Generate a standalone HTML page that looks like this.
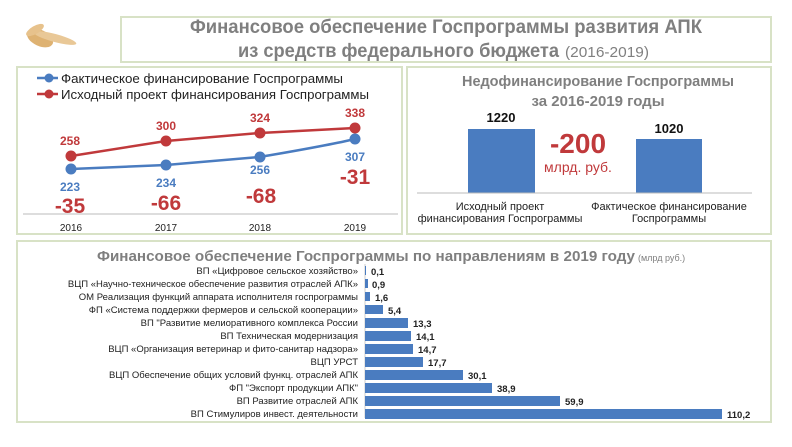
<!DOCTYPE html>
<html><head><meta charset="utf-8"><style>
body{margin:0;width:792px;height:447px;background:#fff;overflow:hidden}
svg{display:block;font-family:"Liberation Sans",sans-serif}
</style></head><body>
<svg width="792" height="447" viewBox="0 0 792 447">
<g fill="#d9a55a" opacity="0.85">
<ellipse cx="40" cy="38" rx="14" ry="8" transform="rotate(25 40 38)"/>
<ellipse cx="55" cy="38" rx="22" ry="4" transform="rotate(15 55 38)" fill="#e6bf85"/>
<ellipse cx="35" cy="30" rx="10" ry="4" transform="rotate(-30 35 30)" fill="#e3b878"/>
</g>
<g fill="#fff" stroke="#d8e2c6" stroke-width="2">
<rect x="121" y="17" width="650" height="45"/>
<rect x="17" y="67" width="385" height="167"/>
<rect x="407" y="67" width="364" height="167"/>
<rect x="17" y="241" width="754" height="181"/>
</g>
<text x="446" y="33" text-anchor="middle" font-size="19" font-weight="bold" fill="#7f7f7f" textLength="512" lengthAdjust="spacingAndGlyphs">Финансовое обеспечение Госпрограммы развития АПК</text>
<text x="238" y="57" font-size="19" font-weight="bold" fill="#7f7f7f" textLength="321" lengthAdjust="spacingAndGlyphs">из средств федерального бюджета</text>
<text x="565" y="57" font-size="15" fill="#7f7f7f" textLength="84" lengthAdjust="spacingAndGlyphs">(2016-2019)</text>

<line x1="37" y1="78" x2="58" y2="78" stroke="#4a7cc0" stroke-width="2.5"/><circle cx="49" cy="78" r="4.5" fill="#4a7cc0"/>
<text x="61" y="83" font-size="13" fill="#222" textLength="282" lengthAdjust="spacingAndGlyphs">Фактическое финансирование Госпрограммы</text>
<line x1="37" y1="94" x2="58" y2="94" stroke="#c0393b" stroke-width="2.5"/><circle cx="49" cy="94" r="4.5" fill="#c0393b"/>
<text x="61" y="99" font-size="13" fill="#222" textLength="308" lengthAdjust="spacingAndGlyphs">Исходный проект финансирования Госпрограммы</text>
<polyline points="71,156 166,141 260,133 355,128" fill="none" stroke="#c0393b" stroke-width="2.5"/>
<path d="M71,169 L166,165 L260,157 C300,150 330,145 355,139" fill="none" stroke="#4a7cc0" stroke-width="2.5"/>
<g fill="#c0393b"><circle cx="71" cy="156" r="5.5"/><circle cx="166" cy="141" r="5.5"/><circle cx="260" cy="133" r="5.5"/><circle cx="355" cy="128" r="5.5"/></g>
<g fill="#4a7cc0"><circle cx="71" cy="169" r="5.5"/><circle cx="166" cy="165" r="5.5"/><circle cx="260" cy="157" r="5.5"/><circle cx="355" cy="139" r="5.5"/></g>
<g font-size="12" text-anchor="middle" font-weight="bold">
<g fill="#c0393b"><text x="70" y="145">258</text><text x="166" y="130">300</text><text x="260" y="122">324</text><text x="355" y="117">338</text></g>
<g fill="#4a7cc0"><text x="70" y="191">223</text><text x="166" y="187">234</text><text x="260" y="174">256</text><text x="355" y="161">307</text></g>
<g fill="#c0393b" font-size="21"><text x="70" y="213">-35</text><text x="166" y="210">-66</text><text x="261" y="203">-68</text><text x="355" y="184">-31</text></g>
</g>
<line x1="23" y1="214" x2="398" y2="214" stroke="#bbb"/>
<g font-size="10" text-anchor="middle" fill="#222"><text x="71" y="231">2016</text><text x="166" y="231">2017</text><text x="260" y="231">2018</text><text x="355" y="231">2019</text></g>

<text x="598" y="86" text-anchor="middle" font-size="15" font-weight="bold" fill="#7f7f7f" textLength="272" lengthAdjust="spacingAndGlyphs">Недофинансирование  Госпрограммы</text>
<text x="598" y="106" text-anchor="middle" font-size="15" font-weight="bold" fill="#7f7f7f">за 2016-2019 годы</text>
<rect x="468" y="129" width="67" height="64" fill="#4a7cc0"/>
<rect x="636" y="139" width="66" height="54" fill="#4a7cc0"/>
<text x="501" y="122" text-anchor="middle" font-size="13" font-weight="bold" fill="#111">1220</text>
<text x="669" y="133" text-anchor="middle" font-size="13" font-weight="bold" fill="#111">1020</text>
<text x="578" y="153" text-anchor="middle" font-size="28" font-weight="bold" fill="#c0393b">-200</text>
<text x="578" y="172" text-anchor="middle" font-size="14" fill="#c0393b">млрд. руб.</text>
<line x1="417" y1="193" x2="752" y2="193" stroke="#bbb"/>
<g font-size="11" text-anchor="middle" fill="#222">
<text x="500" y="210">Исходный проект</text><text x="500" y="222">финансирования Госпрограммы</text>
<text x="669" y="210">Фактическое финансирование</text><text x="669" y="222">Госпрограммы</text>
</g>

<text x="97" y="261" font-size="15" font-weight="bold" fill="#7f7f7f" textLength="538" lengthAdjust="spacingAndGlyphs">Финансовое обеспечение Госпрограммы по направлениям в 2019 году</text>
<text x="638" y="261" font-size="9" fill="#7f7f7f">(млрд руб.)</text>
<line x1="365" y1="264" x2="365" y2="418" stroke="#ccc"/>
<g font-size="9.5" fill="#222" transform="translate(0,-2)">
<g text-anchor="end">
<text x="358" y="276">ВП «Цифровое сельское хозяйство»</text>
<text x="358" y="289">ВЦП «Научно-техническое обеспечение развития отраслей АПК»</text>
<text x="358" y="302">ОМ Реализация функций аппарата исполнителя госпрограммы</text>
<text x="358" y="315">ФП «Система поддержки фермеров и сельской кооперации»</text>
<text x="358" y="328">ВП "Развитие мелиоративного комплекса России</text>
<text x="358" y="341">ВП Техническая модернизация</text>
<text x="358" y="354">ВЦП «Организация ветеринар и фито-санитар надзора»</text>
<text x="358" y="367">ВЦП УРСТ</text>
<text x="358" y="380">ВЦП Обеспечение общих условий функц. отраслей АПК</text>
<text x="358" y="393">ФП "Экспорт продукции АПК"</text>
<text x="358" y="406">ВП Развитие отраслей АПК</text>
<text x="358" y="419">ВП Стимулиров инвест. деятельности</text>
</g>
<g fill="#4a7cc0">
<rect x="365" y="268" width="1" height="9"/>
<rect x="365" y="281" width="3" height="9"/>
<rect x="365" y="294" width="5" height="9"/>
<rect x="365" y="307" width="18" height="9"/>
<rect x="365" y="320" width="43" height="10"/>
<rect x="365" y="333" width="46" height="10"/>
<rect x="365" y="346" width="48" height="10"/>
<rect x="365" y="359" width="58" height="10"/>
<rect x="365" y="372" width="98" height="10"/>
<rect x="365" y="385" width="127" height="10"/>
<rect x="365" y="398" width="195" height="10"/>
<rect x="365" y="411" width="357" height="10"/>
</g>
<g font-weight="bold">
<text x="371" y="277">0,1</text><text x="372" y="290">0,9</text><text x="375" y="303">1,6</text><text x="388" y="316">5,4</text>
<text x="413" y="329">13,3</text><text x="416" y="342">14,1</text><text x="418" y="355">14,7</text><text x="428" y="368">17,7</text>
<text x="468" y="381">30,1</text><text x="497" y="394">38,9</text><text x="565" y="407">59,9</text><text x="727" y="420">110,2</text>
</g>
</g>
</svg>
</body></html>
